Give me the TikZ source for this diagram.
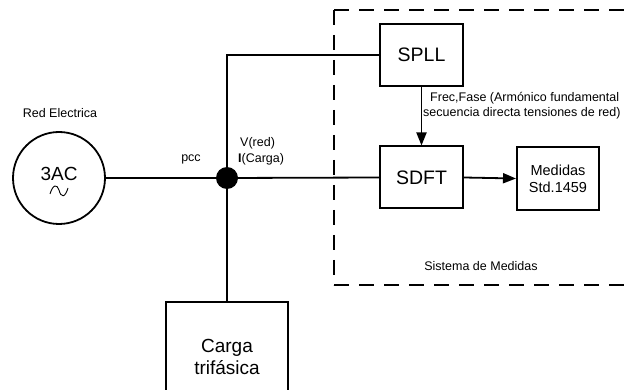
\documentclass[tikz,border=0pt]{standalone}
\usepackage{fontspec}
\setmainfont{Liberation Sans}
\usetikzlibrary{arrows.meta}
\begin{document}
\begin{tikzpicture}[x=1pt,y=-1pt,
  block/.style={draw,line width=2pt,minimum width=83pt,minimum height=62pt,inner sep=0pt},
  wire/.style={line width=1.8pt},
  arr/.style={line width=1.8pt,-{Triangle[length=13pt,width=10pt]}},
  small/.style={font=\fontsize{12.5}{15.5}\selectfont},
  big/.style={font=\fontsize{19.5}{22}\selectfont}]
\useasboundingbox (0,0) rectangle (624,390);
% measurement system enclosure
\draw[line width=1.1pt,dash pattern=on 15pt off 10pt] (334,10) -- (640,10);
\draw[line width=1.1pt,dash pattern=on 15pt off 10pt] (334,285) -- (640,285);
\draw[line width=1.1pt,dash pattern=on 15pt off 10pt] (334,10) -- (334,285);
\node[small] (sis) at (481,266) {Sistema de Medidas};
% grid source
\node[draw,circle,line width=1.8pt,minimum size=92pt,inner sep=0pt] (src) at (59,178) {};
\node[font=\fontsize{19}{20}\selectfont] (ac) at (59,174) {3AC};
\draw[line width=0.9pt] (50,194) .. controls (53,184) and (57,184) .. (59,190)
  .. controls (61,198) and (65,198) .. (68,188);
\node[small] (red) at (60,113) {Red Electrica};
% point of common coupling
\node[circle,fill=black,minimum size=22pt,inner sep=0pt] (pcc) at (227,178) {};
\node[small] (pcclab) at (191,159) {pcc};
\node[small,anchor=west,align=left,inner sep=0pt] (vi) at (238,151.5) {\hspace*{2pt}V(red)\\\textbf{I}(Carga)};
% blocks
\node[block,big] (spll) at (421.5,55) {SPLL};
\node[block,big] (sdft) at (421.5,177.5) {SDFT};
\node[block,minimum width=82pt,minimum height=63pt,font=\fontsize{14.5}{17}\selectfont,align=center] (med) at (558,178.5) {Medidas\\Std.1459};
\node[draw,line width=2pt,minimum width=122pt,minimum height=110pt,inner sep=0pt,
  font=\fontsize{19}{22}\selectfont,align=center] (carga) at (227,357) {Carga\\trifásica};
\node[coordinate] (cargatop) at (227,302) {};
% wiring
\draw[wire] (src.east) -- (pcc.center);
\draw[wire] (pcc.center) -- (sdft.west);
\draw[wire] (spll.west) -| (pcc.center);
\draw[wire] (pcc.center) -- (cargatop);
\draw[arr] (spll.south) -- (sdft.north);
\draw[arr] (sdft.east) -- (med.west);
\node[small,anchor=west,align=left,inner sep=0pt] (frec) at (423,105.5)
  {\hspace*{7pt}Frec,Fase (Armónico fundamental\\secuencia directa tensiones de red)};
\end{tikzpicture}
\end{document}
